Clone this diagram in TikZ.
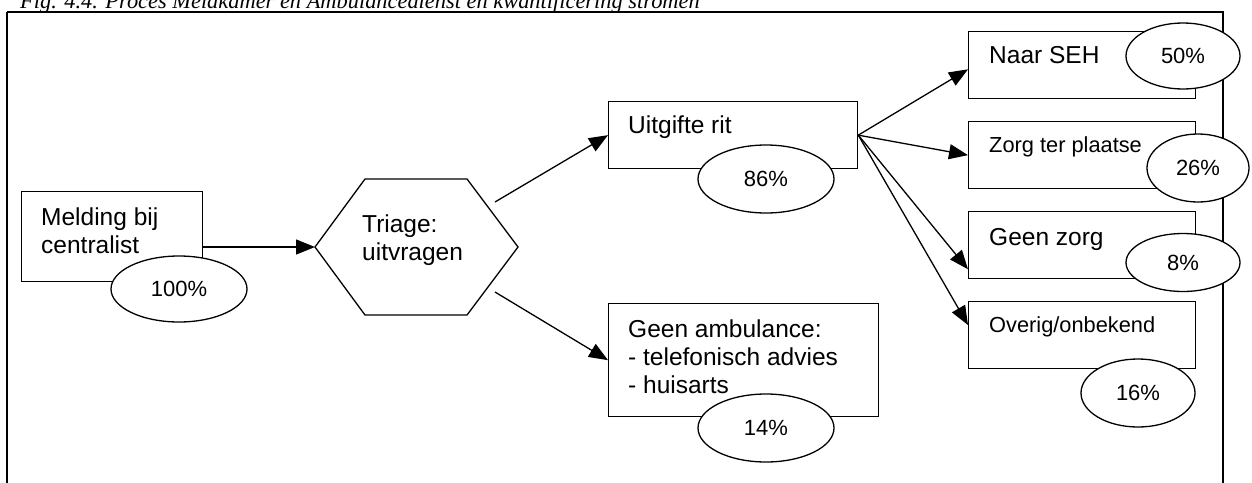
\documentclass[tikz,border=0pt]{standalone}
\usepackage{fontspec}
\setmainfont{Liberation Sans}
\newfontfamily\capfont{Liberation Serif}
\usetikzlibrary{shapes.geometric,arrows.meta,calc}
\begin{document}
\begin{tikzpicture}[x=1pt,y=-1pt,
  box/.style={draw,line width=1.3pt,inner sep=0,anchor=north west},
  lbl/.style={anchor=base west,inner sep=0,font=\fontsize{24.5}{28}\selectfont},
  slbl/.style={anchor=base west,inner sep=0,font=\fontsize{21.8}{26}\selectfont},
  pct/.style={draw,ellipse,fill=white,line width=1.3pt,inner sep=0,font=\fontsize{22}{26}\selectfont},
  arr/.style={line width=1.3pt,-{Triangle[length=19pt,width=15pt]}},
  frame/.style={line width=2pt},
]
\useasboundingbox (0,0) rectangle (1252,482);
% caption (cut at the top, as in the source)
\node[anchor=base west,inner sep=0,font=\capfont\itshape\fontsize{22.4}{25}\selectfont] (cap) at (20,8) {Fig. 4.4. Proces Meldkamer en Ambulancedienst en kwantificering stromen};
% frame
\coordinate (fbl) at (7,495);
\coordinate (ftl) at (7,12);
\coordinate (ftr) at (1223,12);
\coordinate (fbr) at (1223,495);
\draw[line width=1.3pt] (fbl) -- (ftl);
\draw[frame] (ftl) -- (ftr) -- (fbr);
% boxes
\node[box,minimum width=181pt,minimum height=90pt] (mel) at (21,191) {};
\node[box,minimum width=249pt,minimum height=67pt] (uit) at (608,101) {};
\node[box,minimum width=270pt,minimum height=113pt] (amb) at (608,303) {};
\node[box,minimum width=227pt,minimum height=67pt] (seh) at (968,31) {};
\node[box,minimum width=227pt,minimum height=67pt] (zorg) at (968,121) {};
\node[box,minimum width=227pt,minimum height=67pt] (geen) at (968,211) {};
\node[box,minimum width=227pt,minimum height=67pt] (ovr) at (968,301) {};
% hexagon
\coordinate (hw) at (315,247);
\coordinate (htl) at (365,179);
\coordinate (htr) at (467,179);
\coordinate (he) at (518,247);
\coordinate (hbr) at (467,315);
\coordinate (hbl) at (365,315);
\draw[line width=1.3pt] (hw) -- (htl) -- (htr) -- (he) -- (hbr) -- (hbl) -- cycle;
% texts
\node[lbl] (melt) at ($(mel.north west)+(20,34)$) {\begin{tabular}[t]{@{}l@{}}Melding bij\\centralist\end{tabular}};
\node[lbl] (hext) at (362,232) {\begin{tabular}[t]{@{}l@{}}Triage:\\uitvragen\end{tabular}};
\node[lbl] (uitt) at ($(uit.north west)+(20,32)$) {Uitgifte rit};
\node[lbl] (ambt) at ($(amb.north west)+(20,34)$) {\begin{tabular}[t]{@{}l@{}}Geen ambulance:\\- telefonisch advies\\- huisarts\end{tabular}};
\node[lbl] (seht) at ($(seh.north west)+(21,32)$) {Naar SEH};
\node[slbl] (zorgt) at ($(zorg.north west)+(21,31)$) {Zorg ter plaatse};
\node[lbl] (geent) at ($(geen.north west)+(21,34)$) {Geen zorg};
\node[slbl] (ovrt) at ($(ovr.north west)+(21,31)$) {Overig/onbekend};
% connectors
\coordinate (hu) at (495,202);
\coordinate (hd) at (495,292);
\draw[arr] (mel.east |- hw) -- (hw);
\draw[arr] (hu) -- (uit.west);
\draw[arr] (hd) -- (amb.west);
\draw[arr] (uit.east) -- ($(seh.south west)+(0,-30)$);
\draw[arr] (uit.east) -- (zorg.west);
\draw[arr] (uit.east) -- ($(geen.south west)+(0,-10)$);
\draw[arr] (uit.east) -- ($(ovr.north west)+(0,24)$);
% percentages
\node[pct,minimum width=136pt,minimum height=66pt] (p100) at (179,289) {100\%};
\node[pct,minimum width=136pt,minimum height=68pt] (p86) at (766,179) {86\%};
\node[pct,minimum width=136pt,minimum height=68pt] (p14) at (766,428) {14\%};
\node[pct,minimum width=114pt,minimum height=66pt] (p50) at (1183,56) {50\%};
\node[pct,minimum width=102pt,minimum height=68pt] (p26) at (1198,168) {26\%};
\node[pct,minimum width=114pt,minimum height=58pt] (p8) at (1183,262.5) {8\%};
\node[pct,minimum width=114pt,minimum height=68pt] (p16) at (1138,393) {16\%};
\end{tikzpicture}
\end{document}
